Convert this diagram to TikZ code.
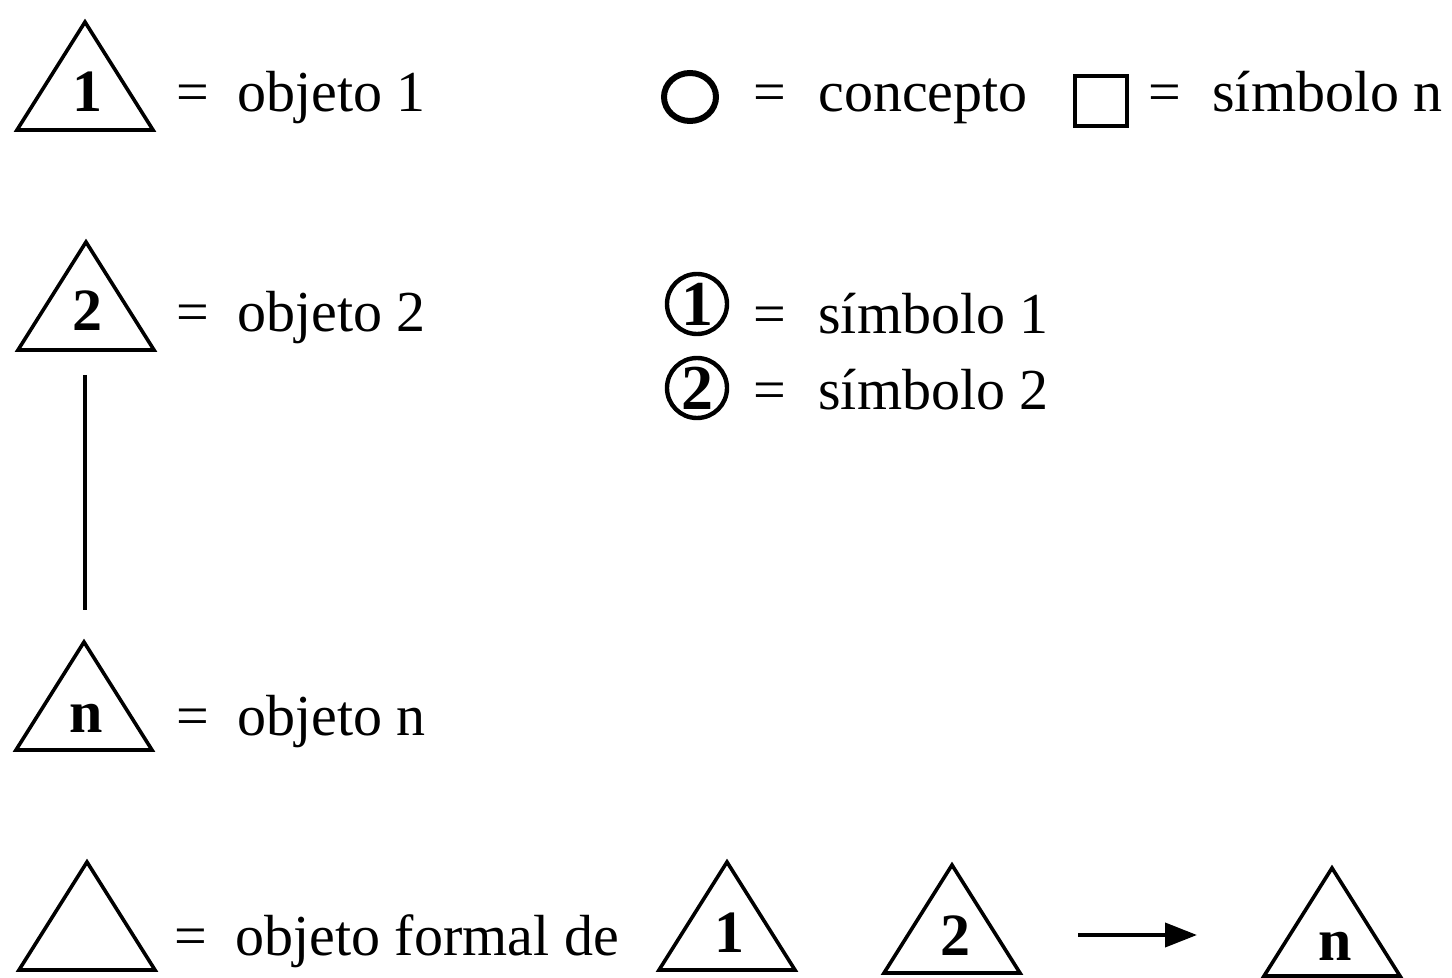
\documentclass[tikz,border=0pt]{standalone}
\usepackage{fontspec}
\setmainfont{Liberation Serif}
\usetikzlibrary{arrows.meta}
\tikzset{
  trs/.style={line width=1.8pt, line join=miter},
  tri/.pic={\draw[trs] (0,0) -- (-68,108) -- (68,108) -- cycle;},
  txt/.style={anchor=base west, inner sep=0pt, font=\fontsize{29}{34}\selectfont},
  eq/.style={anchor=base west, inner sep=0pt, font=\fontsize{29}{34}\selectfont},
  num/.style={anchor=base, inner sep=0pt, font=\fontsize{30}{34}\selectfont\bfseries},
  ring/.style={circle, draw, line width=2.2pt, minimum size=30pt, inner sep=0pt, font=\fontsize{32}{34}\selectfont\bfseries},
  conn/.style={line width=1.6pt}
}
\begin{document}
\begin{tikzpicture}[x=0.5pt,y=-0.5pt]
\useasboundingbox (0,0) rectangle (1452,978);
% row 1
\pic at (85,22) {tri};
\node[num] (n1) at (87,112) {1};
\node[eq] (e1) at (176,112) {=};
\node[txt] (o1) at (237,112) {objeto 1};
\draw[line width=3pt] (690,97) ellipse [x radius=26, y radius=24];
\node[eq] (e4) at (753,112) {=};
\node[txt] (c1) at (818,112) {concepto};
\node[draw, line width=1.6pt, minimum width=26pt, minimum height=25pt, inner sep=0pt] (sq) at (1101,101) {};
\node[eq] (e5) at (1148,112) {=};
\node[txt] (sn) at (1212,112) {símbolo n};
% row 2
\pic at (86,242) {tri};
\node[num] (n2) at (87,331) {2};
\node[eq] (e2) at (176,332) {=};
\node[txt] (o2) at (237,332) {objeto 2};
\node[ring] (r1) at (697,304) {1};
\node[eq] (e6) at (753,334) {=};
\node[txt] (s1) at (818,334) {símbolo 1};
\node[ring] (r2) at (697,388) {2};
\node[eq] (e7) at (753,410) {=};
\node[txt] (s2) at (818,410) {símbolo 2};
% connector
\coordinate (t2b) at (85,375);
\coordinate (tnt) at (85,610);
\draw[conn] (t2b) -- (tnt);
% row n
\pic at (84,642) {tri};
\node[num] (nn) at (86,732) {n};
\node[eq] (e3) at (176,735) {=};
\node[txt] (on) at (237,735) {objeto n};
% bottom row
\pic at (87,862) {tri};
\node[eq] (e8) at (174,955) {=};
\node[txt] (of) at (235,955) {objeto formal de};
\pic at (727,862) {tri};
\node[num] (b1) at (729,952) {1};
\pic at (952,865) {tri};
\node[num] (b2) at (955,955) {2};
\coordinate (aS) at (1078,935);
\coordinate (aE) at (1197,935);
\draw[line width=2pt, -{Triangle[length=16pt,width=12pt]}] (aS) -- (aE);
\pic at (1332,868) {tri};
\node[num] (bn) at (1335,960) {n};
\end{tikzpicture}
\end{document}
